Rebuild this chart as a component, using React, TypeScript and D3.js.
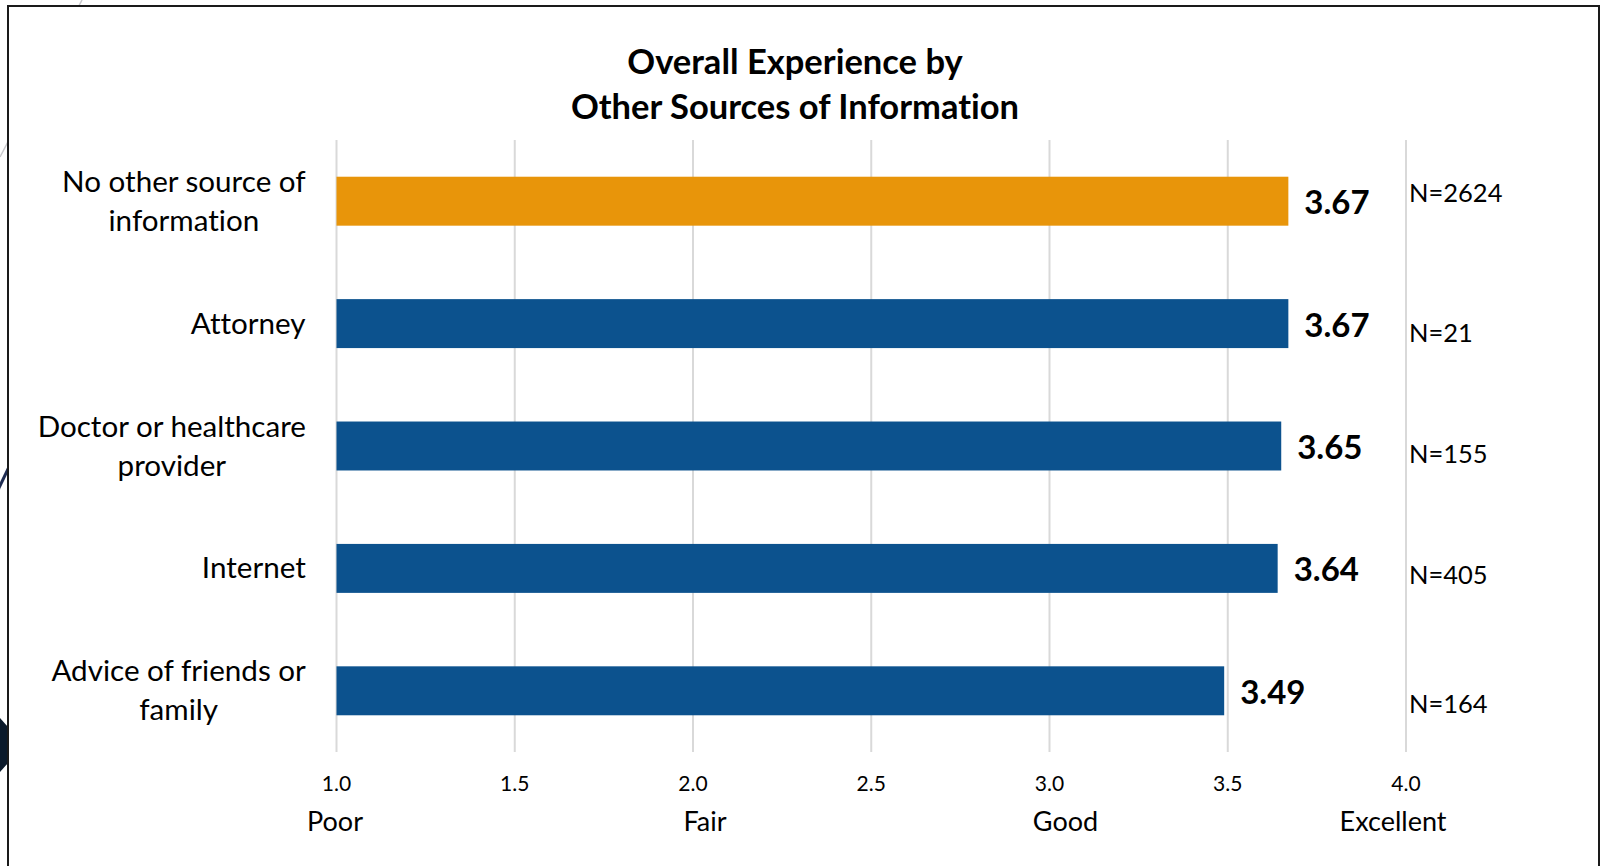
import React, { useEffect, useRef } from "react";
import * as d3 from "d3";

const categories: string[][] = [
  ["No other source of", "information"],
  ["Attorney"],
  ["Doctor or healthcare", "provider"],
  ["Internet"],
  ["Advice of friends or", "family"],
];
const values: number[] = [3.67, 3.67, 3.65, 3.64, 3.49];
const highlight: boolean[] = [true, false, false, false, false];
const nCounts: string[] = ["N=2624", "N=21", "N=155", "N=405", "N=164"];
const tickValues: number[] = [1.0, 1.5, 2.0, 2.5, 3.0, 3.5, 4.0];
const ratingLabels: string[] = ["Poor", "Fair", "Good", "Excellent"];
const ratingValues: number[] = [1, 2, 3, 4];
const titleLines: string[] = ["Overall Experience by", "Other Sources of Information"];

// layout nudges (manually placed text boxes in the original)
const nLabelDy = [1, 18, 16.5, 16, 22];
const ratingDx = [-1.5, 12, 16, -13];

const W = 1604;
const H = 866;
const FONT = "Lato, 'Open Sans', sans-serif";

export default function App() {
  const ref = useRef<SVGSVGElement | null>(null);

  useEffect(() => {
    const svg = d3.select(ref.current);
    svg.selectAll("*").remove();
    svg.style("font-variant-ligatures", "none");

    const x = d3.scaleLinear().domain([1, 4]).range([336.5, 1406]);
    const keys = categories.map((c) => c.join(" "));
    const y = d3
      .scaleBand<string>()
      .domain(keys)
      .range([140, 752])
      .paddingInner(0.6)
      .paddingOuter(0.3);

    // background decorations outside the chart box
    svg
      .append("line")
      .attr("x1", 82)
      .attr("y1", 0)
      .attr("x2", 0)
      .attr("y2", 157)
      .attr("stroke", "#c8c8cc")
      .attr("stroke-width", 1.5);
    svg
      .append("line")
      .attr("x1", -4)
      .attr("y1", 494)
      .attr("x2", 20)
      .attr("y2", 444)
      .attr("stroke", "#1f2c52")
      .attr("stroke-width", 3);
    svg
      .append("path")
      .attr("d", "M0,718 L24,745 L0,772 Z")
      .attr("fill", "#0b1a2b");

    // chart box
    svg
      .append("rect")
      .attr("x", 8)
      .attr("y", 6)
      .attr("width", 1591)
      .attr("height", 880)
      .attr("fill", "#ffffff")
      .attr("stroke", "#1a1a1a")
      .attr("stroke-width", 2);

    // title
    const title = svg
      .append("text")
      .attr("text-anchor", "middle")
      .attr("font-family", FONT)
      .attr("font-weight", 700)
      .attr("font-size", 34.5)
      .attr("fill", "#000");
    titleLines.forEach((t, i) => {
      title
        .append("tspan")
        .attr("x", 795)
        .attr("y", 74 + i * 45)
        .text(t);
    });

    // gridlines
    svg
      .append("g")
      .selectAll("line")
      .data(tickValues)
      .join("line")
      .attr("x1", (d) => x(d))
      .attr("x2", (d) => x(d))
      .attr("y1", 140)
      .attr("y2", 752)
      .attr("stroke", "#d9d9d9")
      .attr("stroke-width", 2);

    // tick labels
    svg
      .append("g")
      .selectAll("text")
      .data(tickValues)
      .join("text")
      .attr("x", (d) => x(d))
      .attr("y", 791)
      .attr("text-anchor", "middle")
      .attr("font-family", FONT)
      .attr("font-size", 21)
      .attr("fill", "#000")
      .text((d) => d3.format(".1f")(d));

    // rating labels
    svg
      .append("g")
      .selectAll("text")
      .data(ratingLabels)
      .join("text")
      .attr("x", (d, i) => x(ratingValues[i]) + ratingDx[i])
      .attr("y", 831)
      .attr("text-anchor", "middle")
      .attr("font-family", FONT)
      .attr("font-size", 27)
      .attr("fill", "#000")
      .text((d) => d);

    // bars
    svg
      .append("g")
      .selectAll("rect")
      .data(values)
      .join("rect")
      .attr("x", x(1))
      .attr("y", (d, i) => y(keys[i]) as number)
      .attr("width", (d) => x(d) - x(1))
      .attr("height", y.bandwidth())
      .attr("fill", (d, i) => (highlight[i] ? "#e8950a" : "#0c528e"));

    // value labels
    svg
      .append("g")
      .selectAll("text")
      .data(values)
      .join("text")
      .attr("x", (d) => x(d) + 16)
      .attr("y", (d, i) => (y(keys[i]) as number) + y.bandwidth() / 2 + 13)
      .attr("font-family", FONT)
      .attr("font-weight", 700)
      .attr("font-size", 33)
      .attr("fill", "#000")
      .text((d) => d3.format(".2f")(d));

    // N labels
    svg
      .append("g")
      .selectAll("text")
      .data(nCounts)
      .join("text")
      .attr("x", x(4) + 3)
      .attr("y", (d, i) => (y(keys[i]) as number) + y.bandwidth() / 2 + nLabelDy[i])
      .attr("font-family", FONT)
      .attr("font-size", 25.5)
      .attr("fill", "#000")
      .text((d) => d);

    // category labels (lines centered within block, block right-aligned)
    const rightEdge = 306;
    const lineH = 39;
    categories.forEach((lines, i) => {
      const cy = (y(keys[i]) as number) + y.bandwidth() / 2;
      const t = svg
        .append("text")
        .attr("text-anchor", "middle")
        .attr("font-family", FONT)
        .attr("font-size", 29.6)
        .attr("fill", "#000");
      const n = lines.length;
      lines.forEach((ln, j) => {
        t.append("tspan")
          .attr("x", 0)
          .attr("y", cy + 10 + (j - (n - 1) / 2) * lineH)
          .text(ln);
      });
      const node = t.node() as SVGTextElement;
      const bb = node.getBBox();
      const cx = rightEdge - bb.width / 2;
      t.selectAll("tspan").attr("x", cx);
    });
  }, []);

  return (
    <svg
      ref={ref}
      width={W}
      height={H}
      style={{ position: "absolute", left: 0, top: 0, display: "block" }}
    />
  );
}
